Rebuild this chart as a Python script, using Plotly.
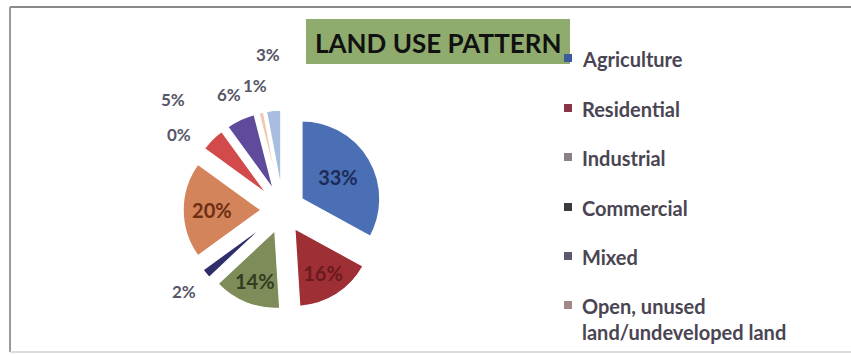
import math
import plotly.graph_objects as go

W, H = 851, 355

# Land use shares (%), listed clockwise from 12 o'clock
categories = [
    "Agriculture", "Residential", "Industrial", "Commercial",
    "Open, unused land/undeveloped land", "Mixed",
    "Public/semi-public", "Transport", "Water bodies", "Others",
]
shares = [33, 16, 14, 2, 20, 0, 5, 6, 1, 3]

slice_colors = ["#4b6fb4", "#9e2f34", "#7d8c58", "#2e2e6a", "#d3845a",
                "#c8ccd8", "#d24a4a", "#5f4a9c", "#f2c8b0", "#a8bde0"]
inside_text_colors = ["#1d2b5a", "#6a1a1e", "#323c22", "#ffffff", "#6e2e14",
                      "#ffffff", "#ffffff", "#ffffff", "#ffffff", "#ffffff"]

# Legend rows shown beside the pie
legend_names = ["Agriculture", "Residential", "Industrial", "Commercial",
                "Mixed", "Open, unused<br>land/undeveloped land"]
legend_colors = ["#3d5a9c", "#8a3446", "#8a8088", "#3a3a40", "#5a5a70", "#a08888"]

title_text = "LAND USE PATTERN"

# Pie placement in pixels
CX, CY, HALF = 283, 210, 100
PULL = 0.28
INSIDE_MIN = 10          # shares at or above this are labelled inside the slice
LABEL_R, LABEL_STEP = 128, 28


def px_x(x):
    return x / W


def px_y(y):
    return 1 - y / H


inside = [v >= INSIDE_MIN for v in shares]

fig = go.Figure(go.Pie(
    labels=categories,
    values=shares,
    sort=False,
    direction="clockwise",
    rotation=0,
    pull=PULL,
    marker=dict(colors=slice_colors, line=dict(color="#ffffff", width=1.5)),
    texttemplate="<b>%{value}%</b>",
    textposition=["inside" if b else "none" for b in inside],
    insidetextorientation="horizontal",
    insidetextfont=dict(family="Lato", size=20, color=inside_text_colors),
    hoverinfo="label+percent",
    domain=dict(x=[px_x(CX - HALF), px_x(CX + HALF)],
                y=[px_y(CY + HALF), px_y(CY - HALF)]),
    showlegend=False,
))

shapes = [
    # chart frame
    dict(type="line", xref="paper", yref="paper", x0=px_x(10), x1=1.0,
         y0=px_y(7), y1=px_y(7), line=dict(color="#8a8a8a", width=2)),
    dict(type="line", xref="paper", yref="paper", x0=px_x(10), x1=px_x(10),
         y0=px_y(7), y1=px_y(352), line=dict(color="#9a9a9a", width=2)),
    dict(type="line", xref="paper", yref="paper", x0=px_x(10), x1=1.0,
         y0=px_y(352), y1=px_y(352), line=dict(color="#d0d0d0", width=1.5)),
    # title box
    dict(type="rect", xref="paper", yref="paper", x0=px_x(306), x1=px_x(570),
         y0=px_y(64), y1=px_y(19), fillcolor="#8fac6e", line=dict(width=0),
         layer="below"),
]

annotations = [
    dict(text="<b>%s</b>" % title_text, xref="paper", yref="paper",
         x=px_x(438), y=px_y(43), xanchor="center", yanchor="middle",
         showarrow=False, font=dict(family="Lato", size=26, color="#111111")),
]

# Outside percentage labels for the small slices: placed on the slice's
# mid-angle, stepped outward when they would crowd the previous label.
total = float(sum(shares))
cum = 0.0
prev = None
for v, is_in in zip(shares, inside):
    mid = 2 * math.pi * (cum + v / 2) / total
    cum += v
    if is_in:
        continue
    r = LABEL_R
    lx, ly = CX + r * math.sin(mid), CY - r * math.cos(mid)
    if prev is not None and abs(lx - prev[0]) < 25 and abs(ly - prev[1]) < 18:
        r += LABEL_STEP
        lx, ly = CX + r * math.sin(mid), CY - r * math.cos(mid)
    prev = (lx, ly)
    annotations.append(dict(text="<b>%d%%</b>" % v, xref="paper", yref="paper",
                            x=px_x(lx), y=px_y(ly), xanchor="center",
                            yanchor="middle", showarrow=False,
                            font=dict(family="Lato", size=17, color="#565668")))

row_y = [58, 108, 157, 207, 256, 305]
for name, color, y in zip(legend_names, legend_colors, row_y):
    shapes.append(dict(type="rect", xref="paper", yref="paper",
                       x0=px_x(564), x1=px_x(572), y0=px_y(y + 4), y1=px_y(y - 4),
                       fillcolor=color, line=dict(width=0)))
    annotations.append(dict(text="<b>%s</b>" % name, xref="paper", yref="paper",
                            x=px_x(580), y=px_y(y - 13), xanchor="left",
                            yanchor="top", align="left", showarrow=False,
                            font=dict(family="Lato", size=20, color="#4a4552")))

fig.update_layout(
    width=W, height=H,
    margin=dict(l=0, r=0, t=0, b=0),
    paper_bgcolor="#ffffff",
    plot_bgcolor="#ffffff",
    shapes=shapes,
    annotations=annotations,
)

fig.write_html("out.html")
